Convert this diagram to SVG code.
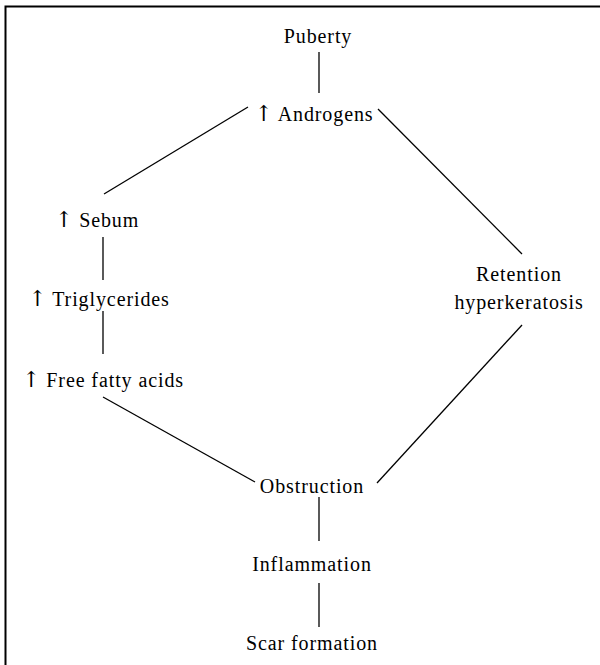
<svg xmlns="http://www.w3.org/2000/svg" width="600" height="665" viewBox="0 0 600 665">
<style>
text{font-family:"Liberation Serif","Times New Roman",serif;font-size:20px;letter-spacing:0.9px;fill:#000;text-anchor:middle}
.a{font-family:"DejaVu Serif",serif;font-size:22px;letter-spacing:0}
.c line{stroke:#000;stroke-width:1.3}
</style>
<rect x="0" y="0" width="600" height="665" fill="#fff"/>
<path d="M5.5,665 V6.5 H600" fill="none" stroke="#000" stroke-width="2"/>
<g id="puberty"><text x="318" y="43">Puberty</text></g>
<g id="androgens"><text x="314" y="121"><tspan class="a">↑</tspan> Androgens</text></g>
<g id="sebum"><text x="97" y="227"><tspan class="a">↑</tspan> Sebum</text></g>
<g id="triglycerides"><text x="99" y="306"><tspan class="a">↑</tspan> Triglycerides</text></g>
<g id="ffa"><text x="103" y="387"><tspan class="a">↑</tspan> Free fatty acids</text></g>
<g id="retention"><text x="519" y="281">Retention</text><text x="519" y="309">hyperkeratosis</text></g>
<g id="obstruction"><text x="312" y="493">Obstruction</text></g>
<g id="inflammation"><text x="312" y="571">Inflammation</text></g>
<g id="scar"><text x="312" y="650">Scar formation</text></g>
<g class="c" id="connectors">
<line x1="319" y1="52" x2="319" y2="93"/>
<line x1="248" y1="107" x2="104" y2="194"/>
<line x1="378" y1="109" x2="522" y2="254"/>
<line x1="103" y1="237" x2="103" y2="280"/>
<line x1="103" y1="311" x2="103" y2="354"/>
<line x1="103" y1="397" x2="255" y2="482"/>
<line x1="522" y1="325" x2="377" y2="483"/>
<line x1="319" y1="497" x2="319" y2="541"/>
<line x1="319" y1="583" x2="319" y2="627"/>
</g>
</svg>
